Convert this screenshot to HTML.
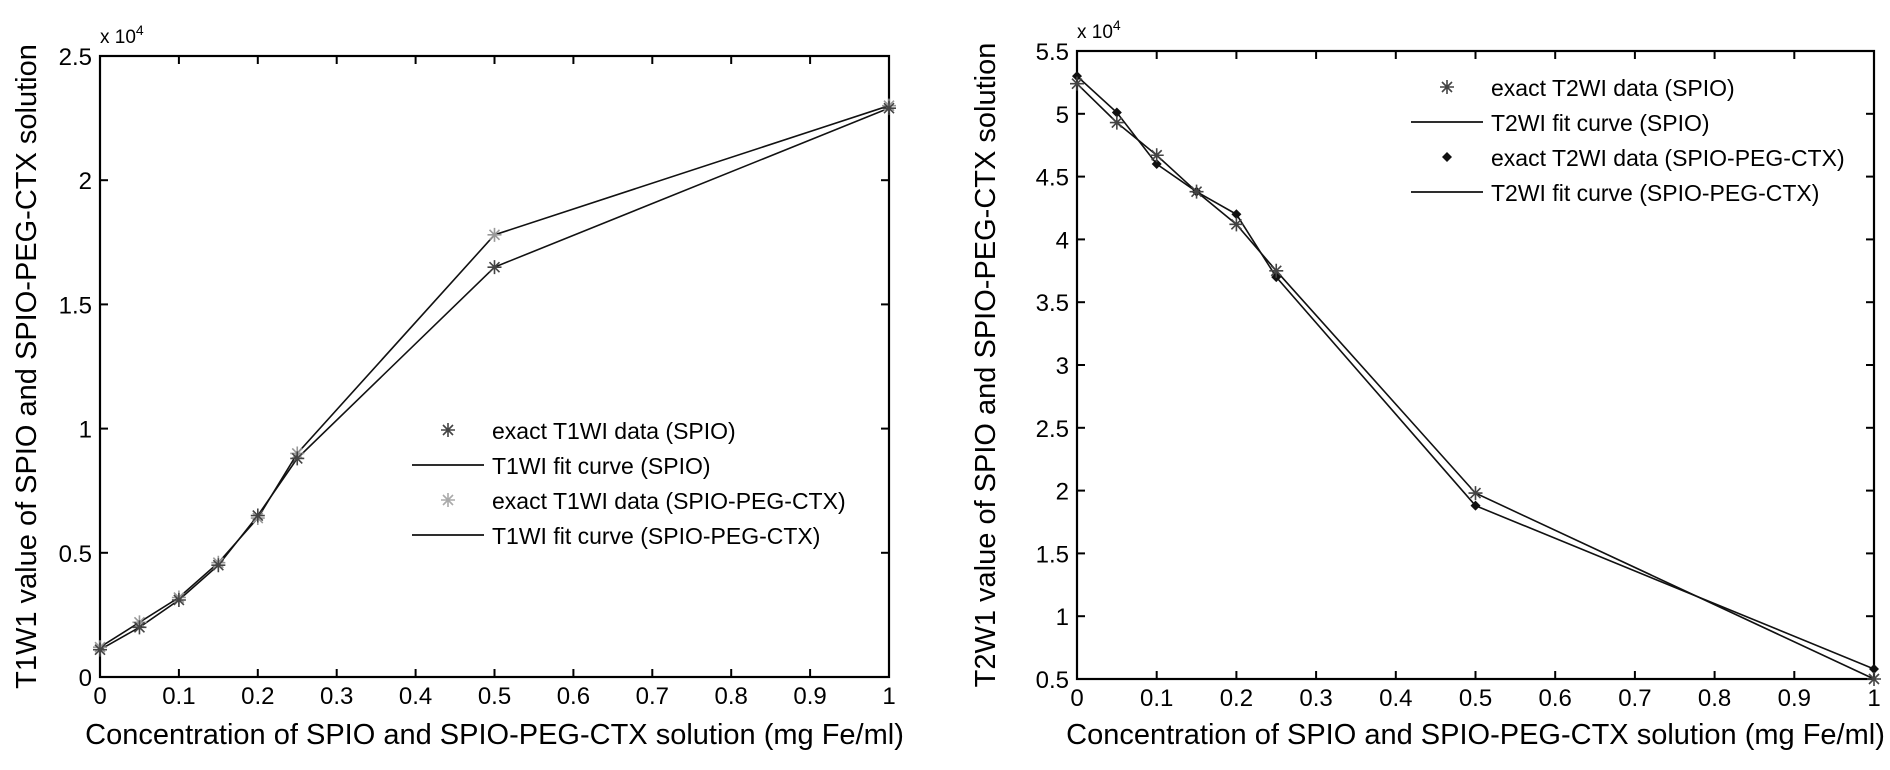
<!DOCTYPE html>
<html><head><meta charset="utf-8"><style>
html,body{margin:0;padding:0;background:#fff;}
svg{display:block;font-family:"Liberation Sans",Arial,sans-serif;}
</style></head><body>
<svg id="chart" width="1890" height="770" viewBox="0 0 1890 770" xmlns="http://www.w3.org/2000/svg">
<rect width="1890" height="770" fill="#fff"/>
</svg>
<script>
const xCats = [0, 0.05, 0.1, 0.15, 0.2, 0.25, 0.5, 1];
const t1Spio = [0.11, 0.20, 0.31, 0.45, 0.65, 0.88, 1.65, 2.29];
const t1Peg  = [0.12, 0.22, 0.32, 0.46, 0.64, 0.90, 1.78, 2.30];
const t2Spio = [5.24, 4.93, 4.67, 4.38, 4.12, 3.75, 1.98, 0.50];
const t2Peg  = [5.30, 5.01, 4.60, 4.38, 4.20, 3.70, 1.88, 0.58];
const xTicks = [0,0.1,0.2,0.3,0.4,0.5,0.6,0.7,0.8,0.9,1];
const xTickLabels = ["0","0.1","0.2","0.3","0.4","0.5","0.6","0.7","0.8","0.9","1"];
const y1Ticks = [0,0.5,1,1.5,2,2.5];
const y1TickLabels = ["0","0.5","1","1.5","2","2.5"];
const y2Ticks = [0.5,1,1.5,2,2.5,3,3.5,4,4.5,5,5.5];
const y2TickLabels = ["0.5","1","1.5","2","2.5","3","3.5","4","4.5","5","5.5"];
const legend1 = ["exact T1WI data (SPIO)","T1WI fit curve (SPIO)","exact T1WI data (SPIO-PEG-CTX)","T1WI fit curve (SPIO-PEG-CTX)"];
const legend2 = ["exact T2WI data (SPIO)","T2WI fit curve (SPIO)","exact T2WI data (SPIO-PEG-CTX)","T2WI fit curve (SPIO-PEG-CTX)"];

const NS="http://www.w3.org/2000/svg";
const svg=document.getElementById('chart');
function mk(tag,attrs,parent,text){const e=document.createElementNS(NS,tag);for(const k in attrs)e.setAttribute(k,attrs[k]);if(text!==undefined)e.textContent=text;(parent||svg).appendChild(e);return e;}

function star(g,x,y,color){
  const s=7;
  mk('path',{d:`M${x-s},${y}H${x+s}M${x},${y-s}V${y+s}M${x-5},${y-5}L${x+5},${y+5}M${x-5},${y+5}L${x+5},${y-5}`,stroke:color,'stroke-width':1.6,fill:'none'},g);
}
function diamond(g,x,y,color){
  mk('path',{d:`M${x},${y-5}L${x+5},${y}L${x},${y+5}L${x-5},${y}Z`,fill:color},g);
}

function plot(cfg){
  const {L,R,T,B,ymin,ymax,yTicks,yLabels,s1,s2,m2,leg,legX,legY,ylabel,ylabX,name}=cfg;
  const sx=v=>L+(v-0)/(1-0)*(R-L);
  const sy=v=>B-(v-ymin)/(ymax-ymin)*(B-T);
  const g=mk('g',{});
  
  
  // ticks
  xTicks.forEach((v,i)=>{
    const x=sx(v);
    mk('line',{x1:x,y1:B,x2:x,y2:B-8,stroke:'#000','stroke-width':2},g);
    mk('line',{x1:x,y1:T,x2:x,y2:T+8,stroke:'#000','stroke-width':2},g);
    const t=mk('text',{x:x,y:B+27,'font-size':24,'text-anchor':'middle'},g,xTickLabels[i]);
    
    
  });
  yTicks.forEach((v,i)=>{
    const y=sy(v);
    mk('line',{x1:L,y1:y,x2:L+8,y2:y,stroke:'#000','stroke-width':2},g);
    mk('line',{x1:R,y1:y,x2:R-8,y2:y,stroke:'#000','stroke-width':2},g);
    const t=mk('text',{x:L-8,y:y+9,'font-size':24,'text-anchor':'end'},g,yLabels[i]);
    
    
  });
  const box=mk('rect',{x:L,y:T,width:R-L,height:B-T,fill:'none',stroke:'#000','stroke-width':2.2},g);
  
  
  const ex=mk('text',{x:L,y:T-13,'font-size':19},g);
  
  
  ex.textContent='x 10';
  mk('tspan',{dy:-8,'font-size':14},ex,'4');
  // series
  const p1=mk('polyline',{points:xCats.map((v,i)=>sx(v)+','+sy(s1[i])).join(' '),fill:'none',stroke:'#111','stroke-width':1.6},g);
  
  
  const p2=mk('polyline',{points:xCats.map((v,i)=>sx(v)+','+sy(s2[i])).join(' '),fill:'none',stroke:'#111','stroke-width':1.6},g);
  
  
  xCats.forEach((v,i)=>{
    const mg=mk('g',{},g);
    
    
    if(m2==='diamond')diamond(mg,sx(v),sy(s2[i]),'#111');else star(mg,sx(v),sy(s2[i]),'#999');
    const sg=mk('g',{},g);
    
    
    star(sg,sx(v),sy(s1[i]),'#444');
  });
  // legend
  const lg=mk('g',{},g);
  
  
  leg.forEach((txt,i)=>{
    const y=legY+i*35;
    const mx=legX+36;
    if(i===0)star(lg,mx,y,'#444');
    else if(i===2){ if(m2==='diamond')diamond(lg,mx,y,'#111'); else star(lg,mx,y,'#aaa'); }
    else mk('line',{x1:legX,y1:y,x2:legX+72,y2:y,stroke:'#111','stroke-width':1.8},lg);
    const t=mk('text',{x:legX+80,y:y+9,'font-size':23},lg,txt);
    
    
  });
  const xl=mk('text',{x:(L+R)/2,y:744,'font-size':29,'text-anchor':'middle'},g,'Concentration of SPIO and SPIO-PEG-CTX solution (mg Fe/ml)');
  
  
  const yl=mk('text',{x:0,y:0,'font-size':29,'text-anchor':'middle',transform:`translate(${ylabX},${(T+B)/2}) rotate(-90)`},g,ylabel);
  
  
}

plot({name:'t1-plot',L:100,R:889,T:56,B:677,ymin:0,ymax:2.5,yTicks:y1Ticks,yLabels:y1TickLabels,s1:t1Spio,s2:t1Peg,m2:'star',leg:legend1,legX:412,legY:430,ylabel:'T1W1 value of SPIO and SPIO-PEG-CTX solution',ylabX:36,});
plot({name:'t2-plot',L:1077,R:1874,T:51,B:679,ymin:0.5,ymax:5.5,yTicks:y2Ticks,yLabels:y2TickLabels,s1:t2Spio,s2:t2Peg,m2:'diamond',leg:legend2,legX:1411,legY:87,ylabel:'T2W1 value of SPIO and SPIO-PEG-CTX solution',ylabX:995,});
</script>
</body></html>
